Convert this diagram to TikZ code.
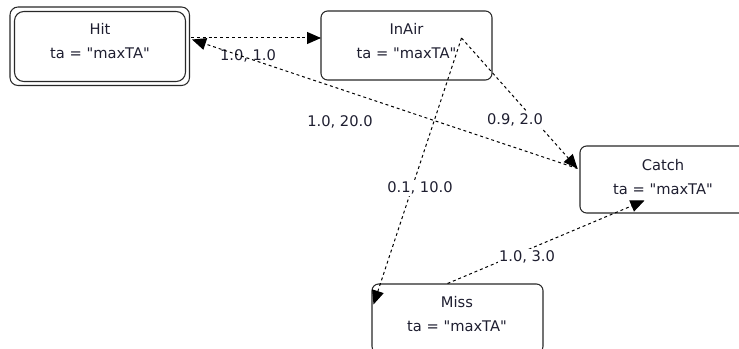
\documentclass[tikz,border=0pt]{standalone}
\usepackage{fontspec}
\setmainfont{DejaVu Sans}
\usetikzlibrary{arrows.meta,calc}
\definecolor{ink}{RGB}{30,30,48}
\definecolor{edge}{RGB}{40,40,40}
\newcommand{\sq}{\textquotedbl}
\tikzset{
  statebox/.style={draw=edge, line width=0.8pt, rounded corners=5pt, inner sep=0pt},
  statetext/.style={text=ink, align=center, font=\fontsize{11}{18}\selectfont, inner sep=0pt},
  trans/.style={draw=black, line width=0.75pt, dash pattern=on 2.2pt off 2.2pt,
                -{Triangle[length=10.5pt,width=9pt]}},
  weight/.style={text=ink, font=\fontsize{11}{13}\selectfont, inner sep=1pt},
  weightbg/.style={weight, fill=white}
}
\begin{document}
\begin{tikzpicture}[x=0.75pt,y=-0.75pt]
\useasboundingbox (0,0) rectangle (739,349);

% states
\node[statebox, minimum width=179.5*0.75pt, minimum height=78.5*0.75pt, rounded corners=6pt] (hitouter) at (99.75,46.25) {};
\node[statebox, minimum width=171*0.75pt, minimum height=70*0.75pt, rounded corners=7pt] (hit) at (100,46.5) {};
\node[statetext] (hittext) at (100,41.5) {Hit\\ta = \sq maxTA\sq};

\node[statebox, minimum width=171*0.75pt, minimum height=69*0.75pt] (inair) at (406.5,45.5) {};
\node[statetext] (inairtext) at (406.5,41) {InAir\\ta = \sq maxTA\sq};

\node[statebox, minimum width=171*0.75pt, minimum height=67*0.75pt] (catch) at (665.5,179.5) {};
\node[statetext] (catchtext) at (663,177.5) {Catch\\ta = \sq maxTA\sq};

\node[statebox, minimum width=171*0.75pt, minimum height=69*0.75pt] (miss) at (457.5,318.5) {};
\node[statetext] (misstext) at (457,314.5) {Miss\\ta = \sq maxTA\sq};

% connection points of the transitions
\coordinate (hitR) at ($(hit.center)+(91,-8.5)$);
\coordinate (hitRd) at ($(hit.center)+(92,-7)$);
\coordinate (inairL) at ($(inair.center)+(-85.5,-7.5)$);
\coordinate (inairP) at ($(inair.center)+(55,-7.5)$);
\coordinate (catchTL) at ($(catch.center)+(-88,-11)$);
\coordinate (catchB) at ($(catch.center)+(-21,21)$);
\coordinate (missTL) at ($(miss.center)+(-84,-14)$);
\coordinate (missT) at ($(miss.center)+(-10,-35)$);

% transitions
\draw[trans] (hitR) -- (inairL);
\node[weight] (w1) at (248,56) {1.0, 1.0};
\draw[trans] (catchTL) -- (hitRd);
\draw[trans] (inairP) -- (catchTL);
\draw[trans] (inairP) -- (missTL);
\draw[trans] (missT) -- (catchB);

% transition weights drawn over the lines
\node[weightbg] (w2) at (340,122) {1.0, 20.0};
\node[weightbg] (w3) at (515,120) {0.9, 2.0};
\node[weightbg] (w4) at (420,188) {0.1, 10.0};
\node[weightbg] (w5) at (527,257) {1.0, 3.0};
\end{tikzpicture}
\end{document}
